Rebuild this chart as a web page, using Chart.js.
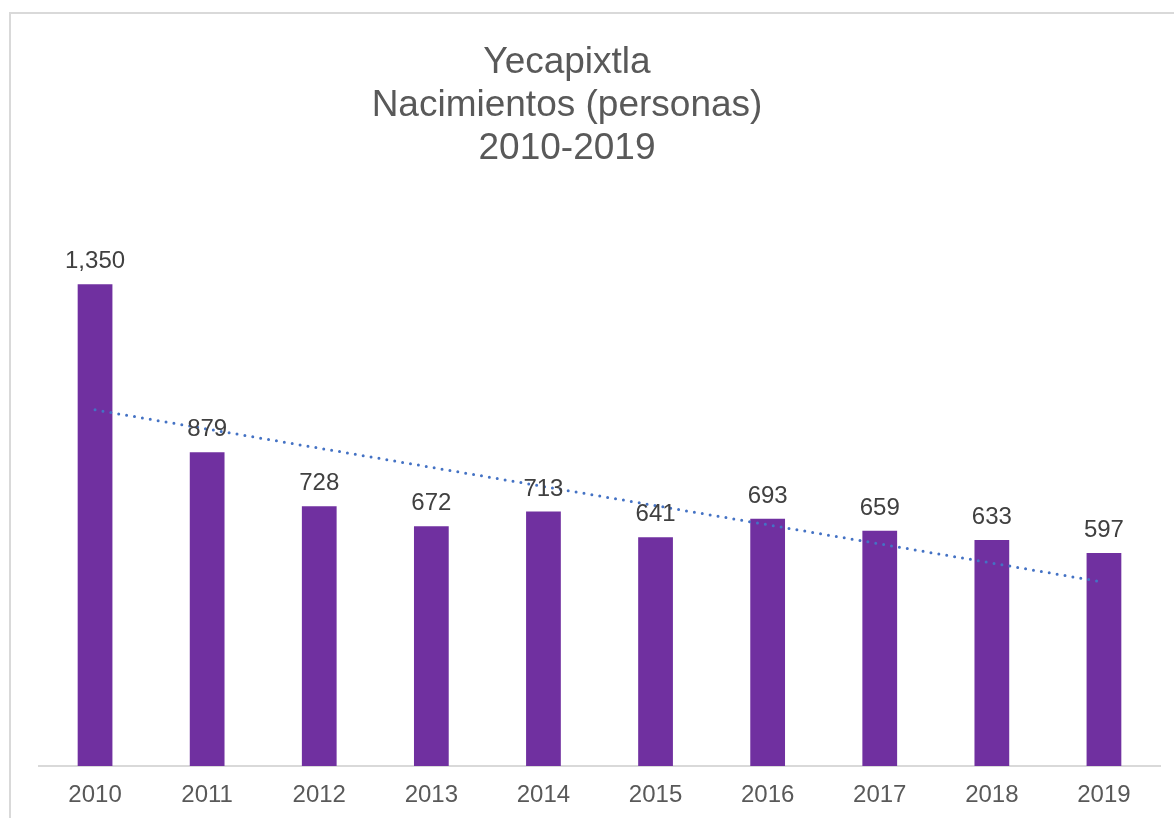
<!DOCTYPE html>
<html>
<head>
<meta charset="utf-8">
<script src="https://cdn.jsdelivr.net/npm/chart.js@4"></script>
<style>
  html, body { margin: 0; padding: 0; background: #fff; overflow: hidden; }
  #frame { position: absolute; left: 9px; top: 12px; width: 1200px; height: 900px; border: 2px solid #d9d9d9; box-sizing: border-box; }
  #wrap { position: absolute; left: 0; top: 0; width: 1174px; height: 818px; }
  canvas { display: block; }
</style>
</head>
<body>
<div id="frame"></div>
<div id="wrap"><canvas id="myChart" width="1174" height="818"></canvas></div>
<script>
// DATA
const years = ["2010", "2011", "2012", "2013", "2014", "2015", "2016", "2017", "2018", "2019"];
const births = [1350, 879, 728, 672, 713, 641, 693, 659, 633, 597];
const titleLines = ["Yecapixtla", "Nacimientos (personas)", "2010-2019"];

const FONT = "'Liberation Sans', Arial, sans-serif";

// linear trendline (least squares over the bars)
function linearTrend(values) {
  let n = values.length;
  let mx = (n - 1) / 2;
  let my = values.reduce((a, b) => a + b, 0) / n;
  let num = 0, den = 0;
  for (let i = 0; i < n; i++) {
    num += (i - mx) * (values[i] - my);
    den += (i - mx) * (i - mx);
  }
  let slope = num / den;
  return values.map((v, i) => my + slope * (i - mx));
}

// title, centred on the chart box rather than the plot
const boxTitle = {
  id: "boxTitle",
  afterDraw(chart) {
    let ctx = chart.ctx;
    ctx.save();
    ctx.font = "37px " + FONT;
    ctx.fillStyle = "#595959";
    ctx.textAlign = "center";
    ctx.textBaseline = "middle";
    titleLines.forEach((line, i) => {
      ctx.fillText(line, 567, 63 + i * 43);
    });
    ctx.restore();
  },
};

// value labels above bars
const barLabels = {
  id: "barLabels",
  afterDatasetsDraw(chart) {
    let ctx = chart.ctx;
    let meta = chart.getDatasetMeta(1);
    ctx.save();
    ctx.font = "24px " + FONT;
    ctx.fillStyle = "#404040";
    ctx.textAlign = "center";
    ctx.textBaseline = "alphabetic";
    meta.data.forEach((bar, i) => {
      ctx.fillText(births[i].toLocaleString("en-US"), bar.x, bar.y - 16);
    });
    ctx.restore();
  },
};

let ctx = document.getElementById("myChart").getContext("2d");
var myChart = new Chart(ctx, {
  data: {
    labels: years,
    datasets: [
      {
        type: "line",
        label: "Tendencia",
        data: linearTrend(births),
        borderColor: "#4472C4",
        borderWidth: 3,
        borderDash: [0, 8],
        borderCapStyle: "round",
        pointRadius: 0,
        fill: false,
        order: 0,
      },
      {
        type: "bar",
        label: "Nacimientos",
        data: births,
        backgroundColor: "#7030A0",
        borderWidth: 0,
        barPercentage: 1,
        categoryPercentage: 0.31,
        order: 1,
      },
    ],
  },
  options: {
    responsive: false,
    animation: false,
    layout: { padding: { left: 39, right: 14, top: 195, bottom: 0 } },
    plugins: {
      legend: { display: false },
      tooltip: { enabled: false },
      title: { display: false },
    },
    scales: {
      x: {
        grid: { display: false, drawTicks: false },
        border: { display: true, color: "#d9d9d9", width: 2 },
        ticks: {
          color: "#595959",
          padding: 15,
          font: { family: FONT, size: 24 },
        },
        afterFit(scale) {
          scale.height = 52;
        },
      },
      y: {
        display: false,
        min: 0,
        max: 1600,
      },
    },
  },
  plugins: [barLabels, boxTitle],
});
</script>
</body>
</html>
